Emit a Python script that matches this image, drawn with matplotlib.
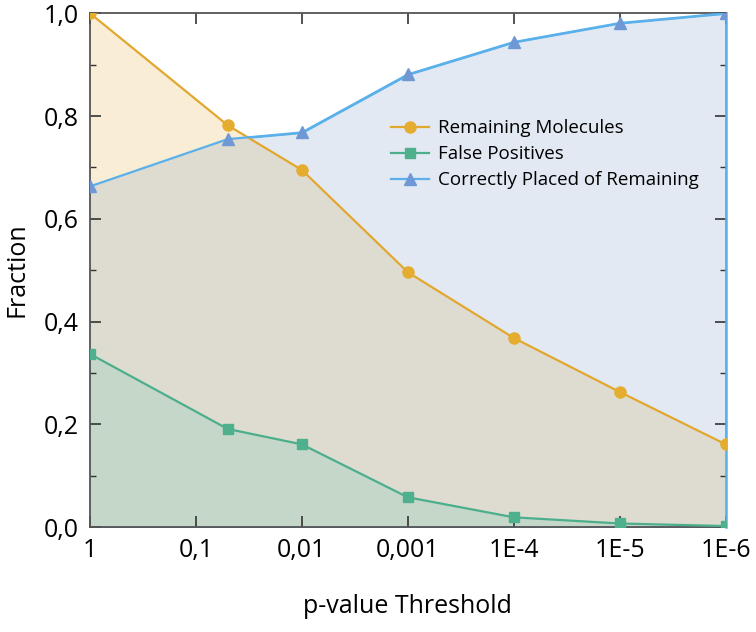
import numpy as np
import matplotlib
matplotlib.use("Agg")
import matplotlib.pyplot as plt
from matplotlib.ticker import MultipleLocator, FixedLocator, FuncFormatter

plt.rcParams['font.family'] = ['Open Sans', 'DejaVu Sans']

# -log10(p) positions of the thresholds used
thresholds = [0, 1.3, 2, 3, 4, 5, 6]
remaining = [1.0, 0.782, 0.695, 0.496, 0.368, 0.263, 0.161]
false_pos = [0.337, 0.191, 0.161, 0.058, 0.019, 0.007, 0.002]
correct = [0.663, 0.755, 0.768, 0.881, 0.944, 0.981, 1.0]

tick_pos = [0, 1, 2, 3, 4, 5, 6]
tick_labels = ["1", "0,1", "0,01", "0,001", "1E-4", "1E-5", "1E-6"]

x = np.array(thresholds)
rem = np.array(remaining)
fp = np.array(false_pos)
cor = np.array(correct)

c_orange = "#e2a72e"
c_green = "#4caf8c"
c_blue_line = "#5ab0ea"
c_blue_mark = "#6f98d4"

fig = plt.figure(figsize=(7.56, 6.32), dpi=100)
ax = fig.add_axes([0.119, 0.166, 0.841, 0.813])

ax.fill_between(x, 0, cor, facecolor="#e2e9f3", edgecolor=c_blue_line, lw=1.5, zorder=1)
ax.fill_between(x, 0, rem, facecolor="#dedcd0", edgecolor="none", zorder=1.1)
ax.fill_between(x, cor, rem, where=rem >= cor, interpolate=True,
                facecolor="#f9eed5", edgecolor="none", zorder=1.2)
ax.fill_between(x, 0, fp, facecolor="#c4d7c9", edgecolor="none", zorder=1.3)

ax.plot(x, rem, color=c_orange, lw=1.6, marker="o", ms=8, mfc="#e5ad30", mec="#e5ad30",
        label="Remaining Molecules", zorder=4)
ax.plot(x, fp, color=c_green, lw=1.6, marker="s", ms=7, mfc="#4fb08e", mec="#4fb08e",
        label="False Positives", zorder=4)
ax.plot(x, cor, color=c_blue_line, lw=1.6, marker="^", ms=9, mfc=c_blue_mark, mec=c_blue_mark,
        label="Correctly Placed of Remaining", zorder=4)

ax.set_xlim(0, 6)
ax.set_ylim(0, 1)
ax.xaxis.set_major_locator(FixedLocator(tick_pos))
ax.set_xticklabels(tick_labels)
ax.yaxis.set_major_locator(MultipleLocator(0.2))
ax.yaxis.set_minor_locator(MultipleLocator(0.1))
ax.yaxis.set_major_formatter(FuncFormatter(lambda v, p: f"{v:.1f}".replace(".", ",")))

ax.tick_params(axis="both", which="major", direction="in", length=8, width=1.2,
               color="#333333", labelsize=18, top=True, right=True, pad=8)
ax.tick_params(axis="y", which="minor", direction="in", length=4, width=1,
               color="#333333", right=True)
for s in ax.spines.values():
    s.set_color("#555555")
    s.set_linewidth(1.3)
ax.spines["right"].set_color(c_blue_line)
ax.spines["right"].set_linewidth(1.8)

ax.set_xlabel("p-value Threshold", fontsize=18, labelpad=22)
ax.set_ylabel("Fraction", fontsize=18, labelpad=10)

leg = ax.legend(loc="upper left", bbox_to_anchor=(0.462, 0.808), frameon=False,
                fontsize=13.5, handlelength=2.0, handletextpad=0.5,
                labelspacing=0.42, borderaxespad=0)

fig.savefig("out.png", dpi=100)
